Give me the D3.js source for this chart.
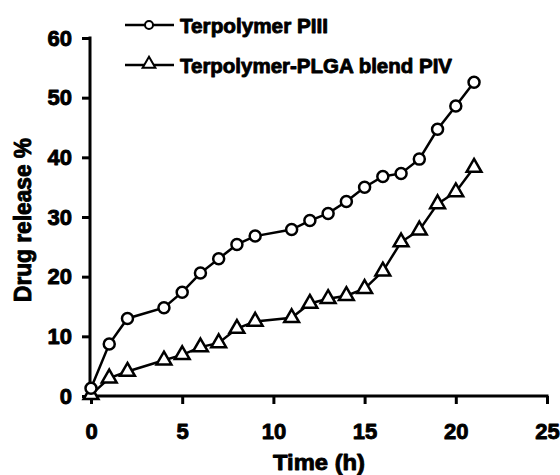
<!DOCTYPE html>
<html><head><meta charset="utf-8">
<script src="https://cdn.jsdelivr.net/npm/d3@7"></script>
<style>body{margin:0;background:#fff}svg{display:block}</style>
</head><body>
<script>
const timesPIII = [0,1,2,4,5,6,7,8,9,11,12,13,14,15,16,17,18,19,20,21];
const releasePIII = [1.3,8.7,13.0,14.8,17.4,20.6,23.0,25.4,26.8,27.9,29.4,30.6,32.6,35.0,36.8,37.3,39.7,44.7,48.6,52.6];
const timesPIV = [0,1,2,4,5,6,7,8,9,11,12,13,14,15,16,17,18,19,20,21];
const releasePIV = [0.2,3.0,4.1,6.0,6.9,8.2,8.9,11.3,12.5,13.1,15.5,16.3,16.8,18.0,20.9,25.8,27.8,32.2,34.2,38.3];
const xTicks = [0,5,10,15,20,25];
const yTicks = [0,10,20,30,40,50,60];
const legendLabels = ["Terpolymer PIII","Terpolymer-PLGA blend PIV"];
const xTitle = "Time (h)";
const yTitle = "Drug release %";

const W=560,H=475;
const svg=d3.select("body").append("svg").attr("width",W).attr("height",H);
const x=d3.scaleLinear().domain([0,25]).range([91,547]);
const y=d3.scaleLinear().domain([0,60]).range([396,38]);
const font="'Liberation Sans', Arial, sans-serif";
function heavy(sel){
  return sel.attr("font-family",font).attr("font-weight","bold").attr("fill","#000")
    .attr("stroke","#000").attr("stroke-width",0.9).attr("stroke-linejoin","round");
}

// axes
const ax=svg.append("g").attr("transform",`translate(0,${y(0)})`)
  .call(d3.axisBottom(x).tickValues(xTicks).tickSize(8).tickPadding(19).tickSizeOuter(0));
const ay=svg.append("g").attr("transform",`translate(${x(0)-1},0)`)
  .call(d3.axisLeft(y).tickValues(yTicks).tickSize(8).tickPadding(10).tickSizeOuter(0));
[ax,ay].forEach(g=>{
  g.selectAll("path,line").attr("stroke","#000").attr("stroke-width",3);
  heavy(g.selectAll("text")).attr("font-size",22);
  g.attr("font-size",22);
});
ax.select("path").attr("d",`M${x(0)-2.5},0H${x(25)+1.5}`);
ay.select("path").attr("d",`M0,${y(0)+3}V${y(60)-1.5}`);

// titles
heavy(svg.append("text")).attr("x",319).attr("y",470).attr("text-anchor","middle")
  .attr("font-size",22).attr("textLength",92).attr("lengthAdjust","spacingAndGlyphs").text(xTitle);
heavy(svg.append("text")).attr("transform","translate(31,220) rotate(-90)").attr("text-anchor","middle")
  .attr("font-size",23).attr("textLength",164).attr("lengthAdjust","spacingAndGlyphs").text(yTitle);

// series
const line=d3.line().x(d=>x(d[0])).y(d=>y(d[1]));
const s1=timesPIII.map((t,i)=>[t,releasePIII[i]]);
const s2=timesPIV.map((t,i)=>[t,releasePIV[i]]);
[s1,s2].forEach(s=>svg.append("path").datum(s).attr("d",line)
  .attr("fill","none").attr("stroke","#000").attr("stroke-width",2.5));
const tri=d3.symbol().type(d3.symbolTriangle).size(95);
svg.append("g").selectAll("path").data(s2).join("path")
  .attr("d",tri).attr("transform",d=>`translate(${x(d[0])},${y(d[1])})`)
  .attr("fill","#fff").attr("stroke","#000").attr("stroke-width",2.5);
svg.append("g").selectAll("circle").data(s1).join("circle")
  .attr("cx",d=>x(d[0])).attr("cy",d=>y(d[1])).attr("r",5.5)
  .attr("fill","#fff").attr("stroke","#000").attr("stroke-width",2.5);

// legend
const lg=[{y:25,w:148},{y:65,w:272}];
lg.forEach((l,i)=>{
  svg.append("line").attr("x1",125).attr("x2",174).attr("y1",l.y).attr("y2",l.y)
    .attr("stroke","#000").attr("stroke-width",2.5);
  if(i===0) svg.append("circle").attr("cx",149).attr("cy",l.y).attr("r",4)
    .attr("fill","#fff").attr("stroke","#000").attr("stroke-width",2);
  else svg.append("path").attr("d",d3.symbol().type(d3.symbolTriangle).size(70)())
    .attr("transform",`translate(149,${l.y-1})`).attr("fill","#fff").attr("stroke","#000").attr("stroke-width",2);
  heavy(svg.append("text")).attr("x",180).attr("y",l.y+8)
    .attr("font-size",21).attr("textLength",l.w).attr("lengthAdjust","spacingAndGlyphs").text(legendLabels[i]);
});
</script>
</body></html>
